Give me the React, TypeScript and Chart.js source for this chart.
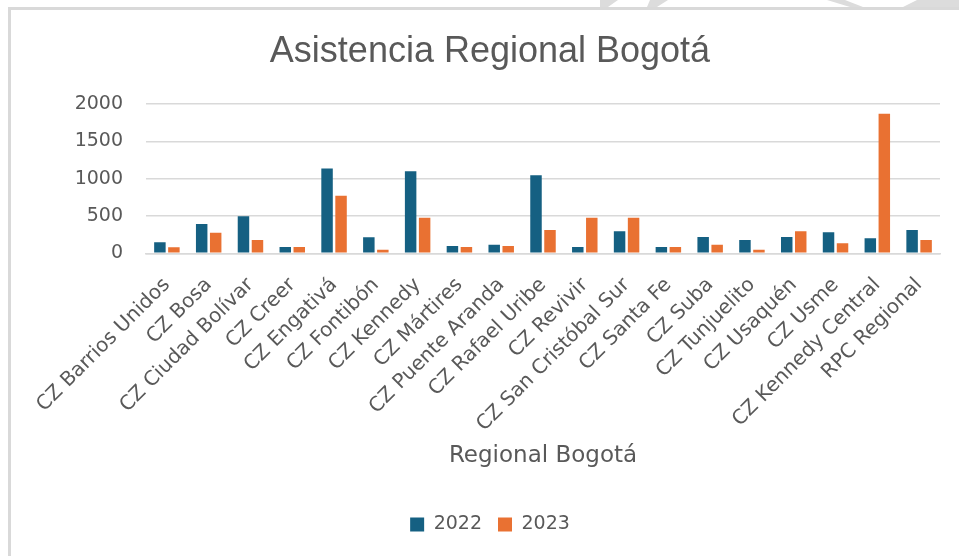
import React, { useEffect, useRef } from "react";
import { Chart, registerables } from "chart.js";

Chart.register(...registerables);

const categories = [
  "CZ Barrios Unidos",
  "CZ Bosa",
  "CZ Ciudad Bolívar",
  "CZ Creer",
  "CZ Engativá",
  "CZ Fontibón",
  "CZ Kennedy",
  "CZ Mártires",
  "CZ Puente Aranda",
  "CZ Rafael Uribe",
  "CZ Revivir",
  "CZ San Cristóbal Sur",
  "CZ Santa Fe",
  "CZ Suba",
  "CZ Tunjuelito",
  "CZ Usaquén",
  "CZ Usme",
  "CZ Kennedy Central",
  "RPC Regional",
];

const values2022 = [147, 392, 495, 84, 1137, 214, 1100, 98, 115, 1047, 84, 294, 84, 218, 178, 218, 281, 200, 312];
const values2023 = [80, 276, 178, 84, 770, 48, 476, 84, 98, 312, 476, 476, 84, 115, 48, 294, 134, 1872, 178];

const seriesNames = ["2022", "2023"];
const chartTitle = "Asistencia Regional Bogotá";
const xAxisTitle = "Regional Bogotá";

const TEXT = "#595959";
const GRID = "#d9d9d9";

export default function App() {
  const ref = useRef<HTMLCanvasElement | null>(null);

  useEffect(() => {
    if (!ref.current) return;
    const chart = new Chart(ref.current, {
      type: "bar",
      data: {
        labels: categories,
        datasets: [
          {
            label: seriesNames[0],
            data: values2022,
            backgroundColor: "#156082",
            categoryPercentage: 0.67,
            barPercentage: 0.82,
          },
          {
            label: seriesNames[1],
            data: values2023,
            backgroundColor: "#E97132",
            categoryPercentage: 0.67,
            barPercentage: 0.82,
          },
        ],
      },
      options: {
        animation: false,
        responsive: false,
        maintainAspectRatio: false,
        layout: { padding: { left: 40, right: 19, top: 0, bottom: 12 } },
        plugins: {
          title: {
            display: true,
            text: chartTitle,
            color: TEXT,
            font: { family: "Liberation Sans", size: 36, weight: "normal" },
            padding: { top: 30, bottom: 31 },
          },
          legend: {
            position: "bottom",
            labels: {
              color: TEXT,
              font: { family: "DejaVu Sans", size: 19 },
              boxWidth: 14,
              boxHeight: 14,
              padding: 16,
            },
          },
          tooltip: { enabled: false },
        },
        scales: {
          x: {
            grid: { display: false, drawTicks: false },
            border: { display: true, color: GRID, width: 1.5 },
            ticks: {
              color: TEXT,
              font: { family: "DejaVu Sans", size: 20 },
              minRotation: 45,
              maxRotation: 45,
              autoSkip: false,
              padding: 20,
            },
            title: {
              display: true,
              text: xAxisTitle,
              color: TEXT,
              font: { family: "DejaVu Sans", size: 23 },
              padding: { top: -14, bottom: 29 },
            },
          },
          y: {
            min: 0,
            max: 2000,
            afterFit: (s: any) => {
              s.width = 106;
            },
            ticks: {
              stepSize: 500,
              color: TEXT,
              font: { family: "DejaVu Sans", size: 19 },
              padding: 23,
              callback: (v: any) => String(v),
            },
            grid: { color: GRID, lineWidth: 1.5, drawTicks: false },
            border: { display: false },
          },
        },
      },
    });
    return () => chart.destroy();
  }, []);

  const stripe = (points: string) => ({
    position: "absolute" as const,
    left: 0,
    top: 0,
    width: 959,
    height: 7,
    background: "#dcdcdc",
    clipPath: `polygon(${points})`,
  });

  return (
    <div style={{ position: "fixed", left: 0, top: 0, width: 959, height: 556, background: "#fff", overflow: "hidden" }}>
      <div style={stripe("600px 0, 618px 0, 608px 7px, 600px 7px")} />
      <div style={stripe("650px 0, 668px 0, 657px 7px, 647px 7px")} />
      <div style={stripe("827px 0, 845px 0, 863px 7px, 850px 7px")} />
      <div style={stripe("917px 0, 959px 0, 959px 7px, 903px 7px")} />
      <div
        style={{
          position: "absolute",
          left: 8,
          top: 7,
          width: 980,
          height: 580,
          borderLeft: "3px solid #d9d9d9",
          borderTop: "3px solid #d9d9d9",
          boxSizing: "border-box",
        }}
      />
      <canvas ref={ref} width={959} height={556} style={{ position: "absolute", left: 0, top: 0, display: "block" }} />
    </div>
  );
}
